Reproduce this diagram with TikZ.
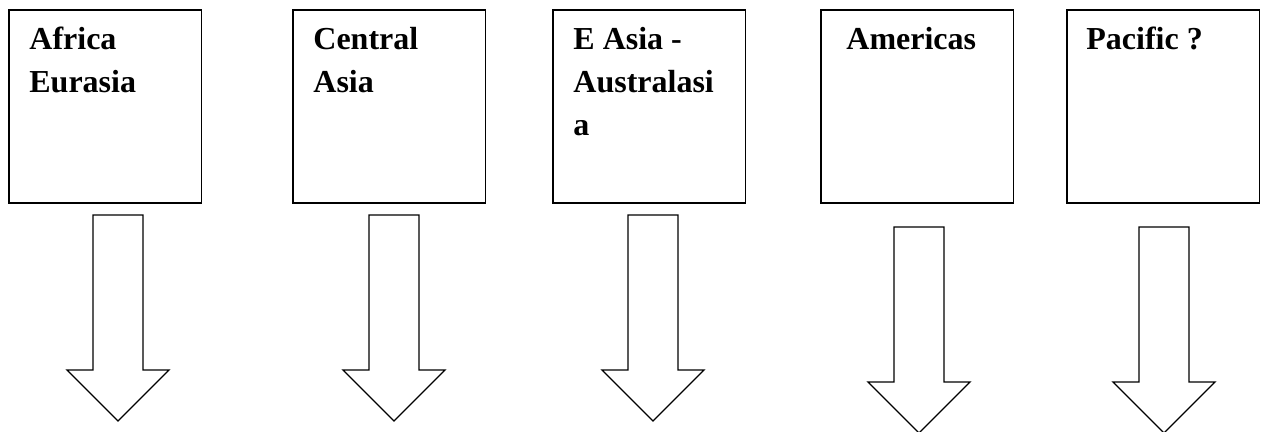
\documentclass[tikz,border=0pt]{standalone}
\usepackage{fontspec}
\setmainfont{Liberation Serif}
\usetikzlibrary{positioning}

\tikzset{
  region/.style={rectangle, draw=black, line width=0.8pt, minimum width=96.25pt, minimum height=96.5pt, inner sep=0pt, anchor=north west},
  region-txt/.style={inner sep=0pt, align=left, font=\fontsize{16}{21.5}\selectfont\bfseries},
  blockarrow/.style={draw=black, line width=0.65pt, line join=miter}
}

\begin{document}
\begin{tikzpicture}[x=0.5pt, y=-0.5pt]
\useasboundingbox (0,0) rectangle (1264,432);

%%% BOXES
\node [region] (africa) at (8,9) {};
\node [region-txt, below right=9pt and 10.5pt of africa.north west] (africa-txt) {Africa\\ Eurasia};

\node [region] (central) at (292,9) {};
\node [region-txt, below right=9pt and 10.5pt of central.north west] (central-txt) {Central\\ Asia};

\node [region] (easia) at (552,9) {};
\node [region-txt, below right=9pt and 10.5pt of easia.north west] (easia-txt) {E Asia -\\ Australasi\\ a};

\node [region] (americas) at (820,9) {};
\node [region-txt, below right=9pt and 13pt of americas.north west] (americas-txt) {Americas};

\node [region] (pacific) at (1066,9) {};
\node [region-txt, below right=9pt and 10pt of pacific.north west] (pacific-txt) {Pacific ?};

%%% ARROWS
\foreach \n/\x/\y in {1/118/215, 2/394/215, 3/653/215, 4/919/227, 5/1164/227} {
  \coordinate (arrow\n) at (\x,\y);
  \draw [blockarrow] ([xshift=-12.5pt]arrow\n) -- ++(50,0) -- ++(0,155) -- ++(26,0) -- ++(-51,51) -- ++(-51,-51) -- ++(26,0) -- cycle;
}

\end{tikzpicture}
\end{document}
